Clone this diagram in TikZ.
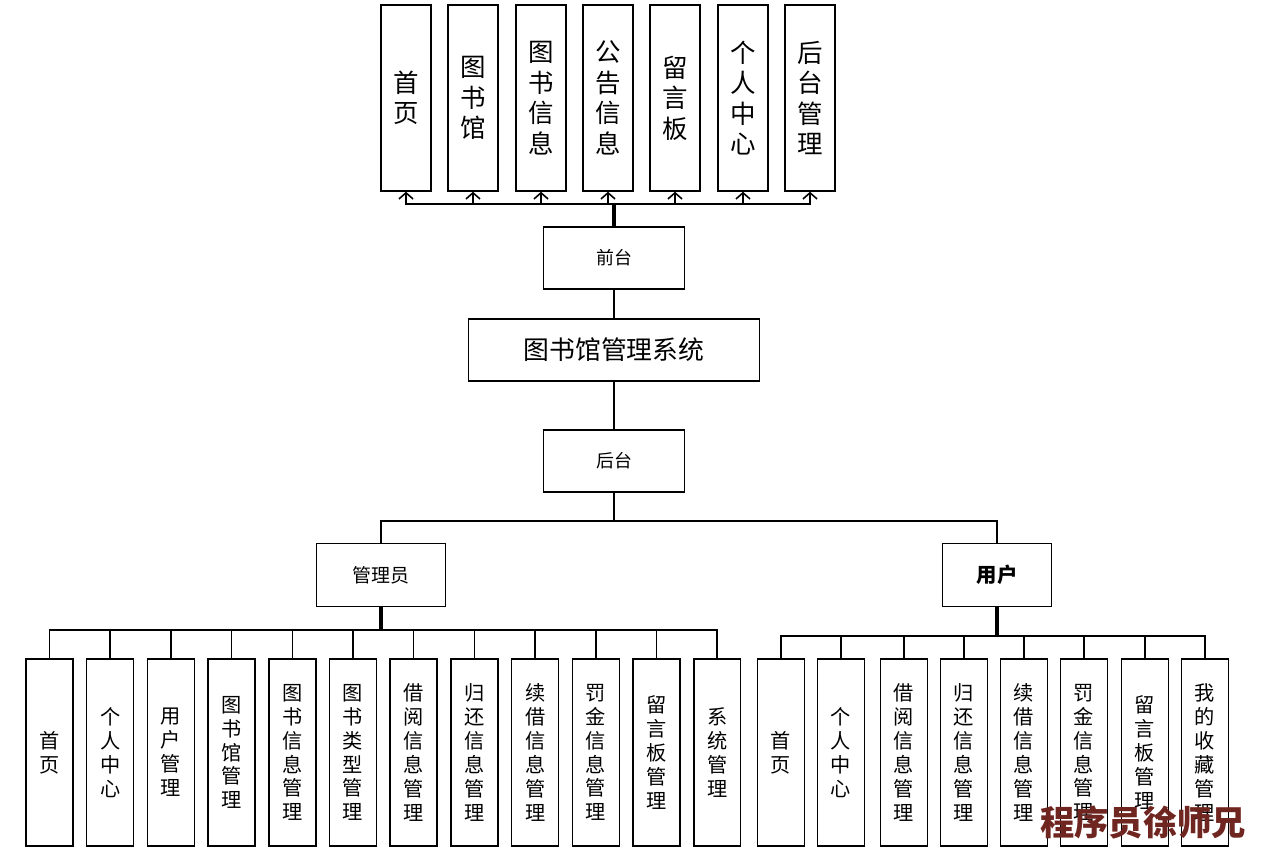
\documentclass[tikz,border=0pt]{standalone}
\usepackage{fontspec}
\newfontfamily\cjk{Noto Sans CJK SC}
\usetikzlibrary{arrows.meta}
\definecolor{signred}{RGB}{112,38,32}

\begin{document}
\begin{tikzpicture}[x=0.02cm, y=-0.02cm,
    box/.style={draw, line width=0.9pt, align=center, inner sep=0pt},
    topbox/.style={box, minimum width=1.0cm, minimum height=3.72cm,
        font=\cjk\fontsize{14.5}{17.4}\selectfont},
    leafbox/.style={box, minimum width=0.94cm, minimum height=3.74cm,
        font=\cjk\fontsize{11.5}{13.6}\selectfont},
    midbox/.style={box, font=\cjk\fontsize{10.2}{12}\selectfont},
    link/.style={line width=0.9pt},
    trunk/.style={line width=1.8pt},
    tip/.style={link, -{Straight Barb[length=3.5pt, width=8pt]}}]
    \useasboundingbox (0,0) rectangle (1267,864);

    % Front end pages
    \foreach \n/\x/\t in {1/406/{首\\页}, 2/473/{图\\书\\馆}, 3/541/{图\\书\\信\\息},
        4/608/{公\\告\\信\\息}, 5/675/{留\\言\\板}, 6/743/{个\\人\\中\\心}, 7/810/{后\\台\\管\\理}}
        \node [topbox] (top\n) at (\x, 98) {\t};

    % Middle column
    \node [midbox, minimum width=2.82cm, minimum height=1.24cm] (front) at (614, 258) {前台};
    \node [box, minimum width=5.82cm, minimum height=1.24cm,
        font=\cjk\fontsize{14.7}{16}\selectfont] (system) at (614, 350) {图书馆管理系统};
    \node [midbox, minimum width=2.82cm, minimum height=1.24cm] (back) at (614, 461) {后台};

    % Roles
    \node [midbox, minimum width=2.58cm, minimum height=1.26cm,
        font=\cjk\fontsize{10.8}{12}\selectfont] (admin) at (381, 575) {管理员};
    \node [midbox, minimum width=2.18cm, minimum height=1.26cm,
        font=\cjk\bfseries\fontsize{11.6}{13}\selectfont] (user) at (997, 575) {用户};

    % Admin pages
    \foreach \n/\t [count=\i from 0] in {1/{首\\页}, 2/{个\\人\\中\\心}, 3/{用\\户\\管\\理},
        4/{图\\书\\馆\\管\\理}, 5/{图\\书\\信\\息\\管\\理}, 6/{图\\书\\类\\型\\管\\理},
        7/{借\\阅\\信\\息\\管\\理}, 8/{归\\还\\信\\息\\管\\理}, 9/{续\\借\\信\\息\\管\\理},
        10/{罚\\金\\信\\息\\管\\理}, 11/{留\\言\\板\\管\\理}, 12/{系\\统\\管\\理}}
        \node [leafbox] (a\n) at (49.5+60.7*\i, 752.5) {\t};

    % User pages
    \foreach \n/\x/\t in {1/781/{首\\页}, 2/841/{个\\人\\中\\心}, 3/904/{借\\阅\\信\\息\\管\\理},
        4/964/{归\\还\\信\\息\\管\\理}, 5/1024/{续\\借\\信\\息\\管\\理}, 6/1084/{罚\\金\\信\\息\\管\\理},
        7/1145/{留\\言\\板\\管\\理}, 8/1205/{我\\的\\收\\藏\\管\\理}}
        \node [leafbox] (u\n) at (\x, 752.5) {\t};

    % Connectors
    \coordinate (fbus) at (614, 204);
    \draw [trunk] (front.north) -- (fbus);
    \foreach \n in {1,...,7}
        \draw [tip] (fbus) -| (top\n.south);
    \draw [link] (front.south) -- (system.north);
    \draw [link] (system.south) -- (back.north);

    \coordinate (bbus) at (614, 521);
    \draw [link] (back.south) -- (bbus);
    \draw [link] (bbus) -| (admin.north);
    \draw [link] (bbus) -| (user.north);

    \coordinate (abus) at (381, 630);
    \draw [trunk] (admin.south) -- (abus);
    \foreach \n in {1,...,12}
        \draw [link] (abus) -| (a\n.north);

    \coordinate (ubus) at (997, 636);
    \draw [trunk] (user.south) -- (ubus);
    \foreach \n in {1,...,8}
        \draw [link] (ubus) -| (u\n.north);

    % Watermark
    \node [text=signred, font=\cjk\bfseries\fontsize{19.5}{20}\selectfont] (sign) at (1143, 823) {程序员徐师兄};
\end{tikzpicture}
\end{document}
